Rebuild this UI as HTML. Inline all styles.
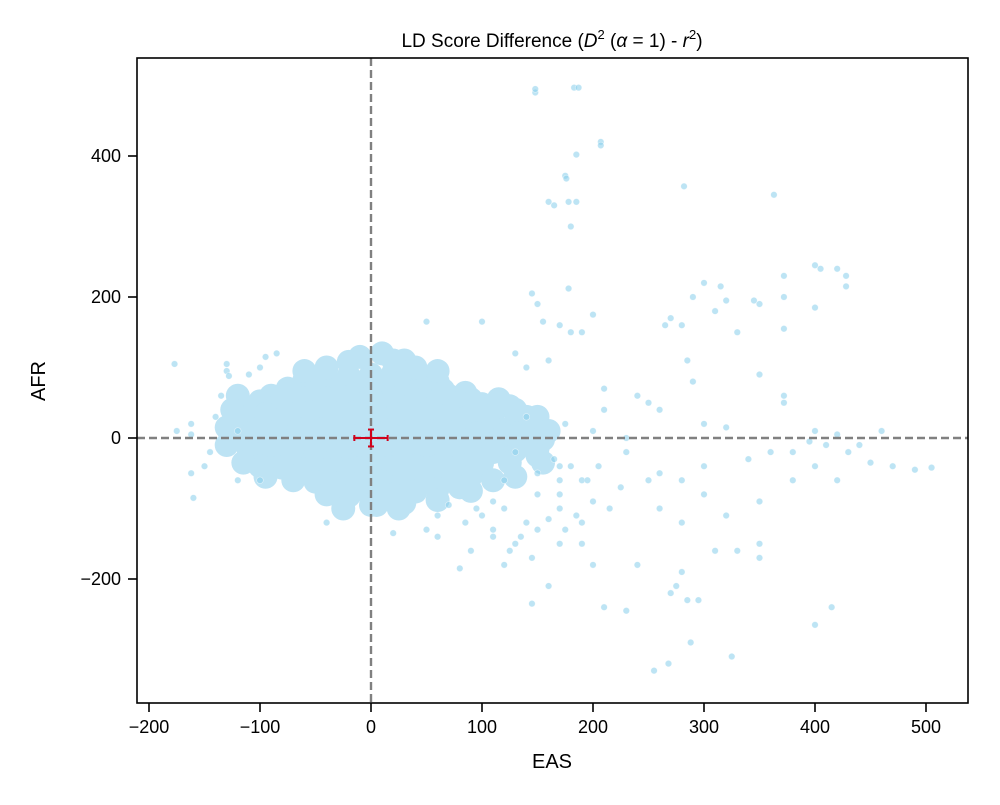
<!DOCTYPE html>
<html><head><meta charset="utf-8"><style>
body{margin:0;background:#fff;font-family:"Liberation Sans","DejaVu Sans",sans-serif}
svg text{font-family:"Liberation Sans","DejaVu Sans",sans-serif;fill:#000}
</style></head><body>
<svg id="chart" width="1000" height="800" viewBox="0 0 1000 800">
<text x="552" y="47" font-size="19" text-anchor="middle">LD Score Difference (<tspan font-style="italic">D</tspan><tspan font-size="13" dy="-8">2</tspan><tspan dy="8"> (</tspan><tspan font-style="italic">α</tspan> = 1) - <tspan font-style="italic">r</tspan><tspan font-size="13" dy="-8">2</tspan><tspan dy="8">)</tspan></text>
<g id="points"></g>
<g id="axes"></g>
<text x="552" y="768" font-size="20" text-anchor="middle">EAS</text>
<text x="45" y="381" font-size="20" text-anchor="middle" transform="rotate(-90 45 381)">AFR</text>
</svg>
<script>
const xTicks=[-200,-100,0,100,200,300,400,500];
const yTicks=[-200,0,200,400];
const tickLabels={"-200":"\u2212200","-100":"\u2212100"};
const coreX=[-60,-40,-20,0,20,40,60,-90,-70,-50,-30,-10,10,30,50,70,90,-110,-90,-70,-50,-30,-10,10,30,50,70,90,110,140,-120,-100,-80,-60,-40,-20,0,20,40,60,80,100,120,145,-125,-105,-85,-65,-45,-25,-5,15,35,55,75,95,115,135,155,-110,-90,-70,-50,-30,-10,10,30,50,70,90,110,130,150,-100,-80,-60,-40,-20,0,20,40,60,80,100,125,-70,-50,-30,-10,10,30,50,70,90,-40,-20,0,20,40,60,80,-75,-55,-35,-15,5,25,45,65,85,-100,-80,-60,-40,-20,0,20,40,60,80,100,125,-115,-95,-75,-55,-35,-15,5,25,45,65,85,105,130,150,-105,-85,-65,-45,-25,-5,15,35,55,75,95,120,140,-90,-70,-50,-30,-10,10,30,50,70,90,110,-10,10,30,-25,0,25,-120,-125,-130,-115,-95,-20,20,40,60,-40,-60,5,30,60,90,110,150,150,130,160,155,115,130,-130];
const coreY=[82,85,88,90,92,85,80,60,62,65,66,68,70,66,62,60,55,40,42,44,45,46,48,48,46,44,42,40,35,30,20,22,24,25,26,25,24,22,20,18,16,15,12,10,0,2,3,4,2,0,-2,-1,0,2,0,-2,0,-3,-2,-20,-22,-20,-22,-24,-22,-20,-22,-22,-20,-18,-20,-18,-15,-40,-42,-44,-45,-46,-44,-42,-40,-40,-38,-36,-35,-60,-62,-64,-64,-62,-60,-58,-56,-54,-80,-82,-84,-80,-76,-72,-70,70,74,76,78,78,76,72,68,64,52,54,56,56,58,58,56,54,52,50,48,45,32,34,35,36,36,36,35,34,33,30,28,25,22,18,10,10,12,12,12,10,10,10,10,8,6,5,4,-10,-10,-12,-12,-10,-10,-10,-10,-10,-8,-8,115,120,110,-100,-95,-100,60,40,15,-35,-55,108,110,100,95,100,95,-95,-92,-88,-75,-60,30,-25,40,10,-35,55,-55,-10];
const outX=[148,148,183,187,207,207,185,175,176,282,363,160,165,178,185,180,200,178,145,150,155,170,190,300,315,290,320,310,330,345,350,372,372,372,400,405,420,428,428,400,265,270,280,285,290,350,372,372,250,300,320,400,410,430,450,470,490,505,400,420,440,250,260,280,300,310,330,350,350,270,280,285,295,275,255,268,288,325,400,415,240,230,210,200,190,170,160,145,120,80,90,60,50,20,-40,-160,-162,-175,-177,-162,-162,-130,-130,-128,-95,50,100,180,210,230,260,320,350,380,420,460,200,170,150,140,230,210,240,260,200,180,170,190,280,300,340,360,380,395,160,140,130,120,110,175,165,150,140,130,-145,-140,-150,-120,-135,-100,170,185,195,205,215,225,175,190,120,135,100,110,85,95,60,70,150,160,170,130,145,110,125,-110,-100,-85,-120];
const outY=[490,495,497,497,420,415,402,372,368,357,345,335,330,335,335,300,175,212,205,190,165,160,150,220,215,200,195,180,150,195,190,230,200,155,245,240,240,230,215,185,160,170,160,110,80,90,60,50,50,20,15,10,-10,-20,-35,-40,-45,-42,-40,-60,-10,-60,-100,-120,-80,-160,-160,-150,-170,-220,-190,-230,-230,-210,-330,-320,-290,-310,-265,-240,-180,-245,-240,-180,-150,-150,-210,-235,-180,-185,-160,-140,-130,-135,-120,-85,-50,10,105,20,5,95,105,88,115,165,165,150,40,-20,-50,-110,-90,-60,5,10,-90,-100,-80,-120,0,70,60,40,10,-40,-60,-60,-60,-40,-30,-20,-20,-5,110,100,120,-60,-90,20,-30,-50,30,-20,-20,30,-40,10,60,-60,-80,-110,-60,-40,-100,-70,-130,-120,-100,-140,-110,-130,-120,-100,-110,-95,-130,-115,-40,-150,-170,-140,-160,90,100,120,-60];
const X=v=>371+(v)*1.11;
const Y=v=>438-(v)*0.705;
const NS="http://www.w3.org/2000/svg";
const pts=document.getElementById('points');
function circ(cx,cy,r,fill,op,stroke){const c=document.createElementNS(NS,'circle');c.setAttribute('cx',cx);c.setAttribute('cy',cy);c.setAttribute('r',r);c.setAttribute('fill',fill);c.setAttribute('fill-opacity',op);if(stroke){c.setAttribute('stroke','#fff');c.setAttribute('stroke-width','0.6');c.setAttribute('stroke-opacity','0.6');}return c;}
for(let i=0;i<coreX.length;i++){const c=circ(X(coreX[i]),Y(coreY[i]),12,'#bde3f4',1,false);


pts.appendChild(c);}
for(let i=0;i<outX.length;i++){const c=circ(X(outX[i]),Y(outY[i]),3.3,'#87ceeb',0.55,true);


pts.appendChild(c);}
const ax=document.getElementById('axes');
function el(tag,attrs){const e=document.createElementNS(NS,tag);for(const k in attrs)e.setAttribute(k,attrs[k]);return e;}
let l=el('line',{x1:X(0),x2:X(0),y1:58,y2:703,stroke:'#808080','stroke-width':2.4,'stroke-dasharray':'8,4'});


ax.appendChild(l);
l=el('line',{x1:137,x2:968,y1:Y(0),y2:Y(0),stroke:'#808080','stroke-width':2.4,'stroke-dasharray':'8,4'});


ax.appendChild(l);
const err=el('g',{stroke:'#d0021b','stroke-width':2,fill:'none'});


err.appendChild(el('line',{x1:X(-15),x2:X(15),y1:Y(0),y2:Y(0)}));
err.appendChild(el('line',{x1:X(0),x2:X(0),y1:Y(12),y2:Y(-12)}));
err.appendChild(el('line',{x1:X(-15),x2:X(-15),y1:Y(0)-3,y2:Y(0)+3}));
err.appendChild(el('line',{x1:X(15),x2:X(15),y1:Y(0)-3,y2:Y(0)+3}));
err.appendChild(el('line',{x1:X(0)-3,x2:X(0)+3,y1:Y(12),y2:Y(12)}));
err.appendChild(el('line',{x1:X(0)-3,x2:X(0)+3,y1:Y(-12),y2:Y(-12)}));
ax.appendChild(err);
const frame=el('rect',{x:137,y:58,width:831,height:645,fill:'none',stroke:'#000','stroke-width':1.6});


ax.appendChild(frame);
xTicks.forEach(v=>{const x=X(v);
const t=el('line',{x1:x,x2:x,y1:703,y2:712,stroke:'#000','stroke-width':1.6});


ax.appendChild(t);
const tx=el('text',{x:x,y:733,'font-size':18,'text-anchor':'middle'});tx.textContent=tickLabels[v]||String(v);


ax.appendChild(tx);});
yTicks.forEach(v=>{const y=Y(v);
const t=el('line',{x1:128,x2:137,y1:y,y2:y,stroke:'#000','stroke-width':1.6});


ax.appendChild(t);
const tx=el('text',{x:121,y:y+6,'font-size':18,'text-anchor':'end'});tx.textContent=tickLabels[v]||String(v);


ax.appendChild(tx);});
</script>
</body></html>
